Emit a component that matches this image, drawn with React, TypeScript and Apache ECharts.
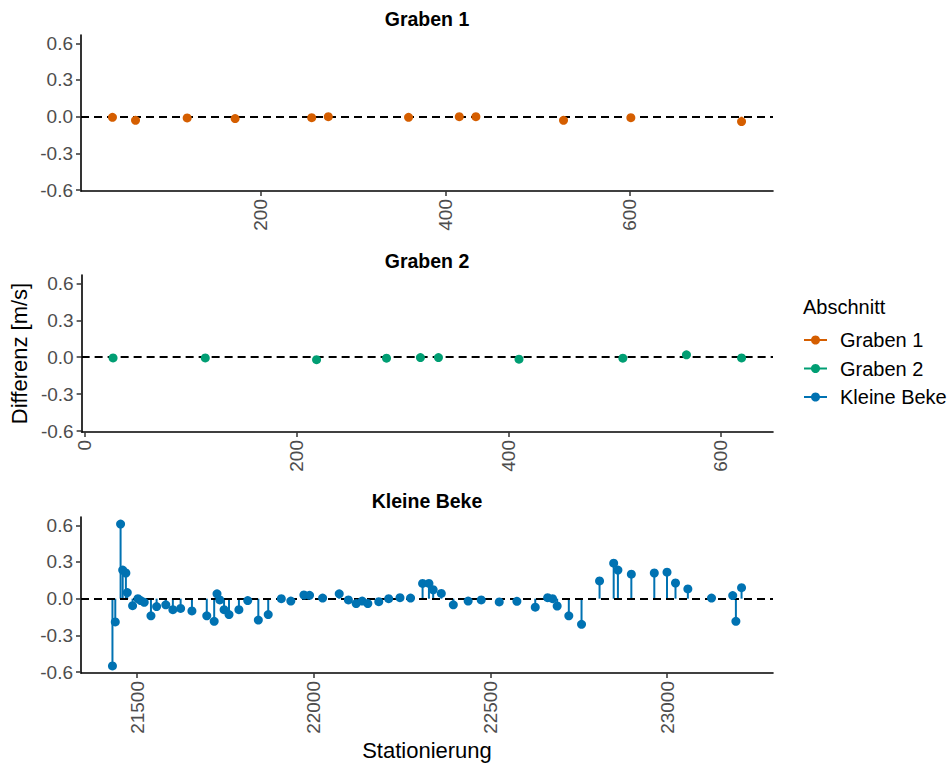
import { useEffect, useRef } from "react";
import * as echarts from "echarts";

const FONT = "'Liberation Sans', Arial, Helvetica, sans-serif";

// ---- Data ----
const graben1X = [39, 64, 120, 172, 255, 273, 360, 415, 433, 528, 601, 721];
const graben1Y = [-0.005, -0.03, -0.01, -0.016, -0.008, 0.0, -0.005, 0.0, 0.0, -0.03, -0.008, -0.04];

const graben2X = [27, 114, 219, 285, 317, 334, 410, 508, 568, 620];
const graben2Y = [-0.006, -0.006, -0.02, -0.008, -0.003, -0.003, -0.016, -0.008, 0.019, -0.006];

const kleineBekeX = [
  21430, 21438, 21453, 21459, 21468, 21472, 21487, 21502, 21510, 21520, 21539, 21555, 21581, 21601,
  21623, 21655, 21697, 21718, 21726, 21734, 21746, 21760, 21788, 21813, 21843, 21871, 21908, 21935,
  21972, 21988, 22025, 22072, 22098, 22120, 22137, 22153, 22184, 22212, 22244, 22274, 22308, 22326,
  22338, 22361, 22395, 22437, 22474, 22525, 22575, 22627, 22662, 22676, 22689, 22722, 22758, 22809,
  22849, 22861, 22899, 22964, 23000, 23024, 23059, 23126, 23186, 23195, 23211,
];
const kleineBekeY = [
  -0.55, -0.19, 0.61, 0.234, 0.21, 0.05, -0.057, 0.0, -0.016, -0.03, -0.14, -0.065, -0.05, -0.09,
  -0.08, -0.1, -0.14, -0.185, 0.04, -0.01, -0.09, -0.13, -0.09, -0.016, -0.175, -0.13, 0.0, -0.02,
  0.03, 0.027, 0.005, 0.04, -0.01, -0.04, -0.02, -0.04, -0.025, 0.0, 0.008, 0.005, 0.125, 0.125,
  0.073, 0.043, -0.05, -0.02, -0.01, -0.027, -0.022, -0.07, 0.008, 0.0, -0.06, -0.14, -0.21, 0.145,
  0.29, 0.234, 0.2, 0.21, 0.217, 0.128, 0.08, 0.005, 0.025, -0.185, 0.09,
];

const seriesNames = ["Graben 1", "Graben 2", "Kleine Beke"];
const seriesColors = ["#D55E00", "#009E73", "#0072B2"];
const yTicks = [-0.6, -0.3, 0, 0.3, 0.6];
const xTicks1 = [200, 400, 600];
const xTicks2 = [0, 200, 400, 600];
const xTicks3 = [21500, 22000, 22500, 23000];

const legendTitle = "Abschnitt";
const yTitle = "Differenz [m/s]";
const xTitle = "Stationierung";

// ---- Layout ----
const PLOT_LEFT = 81;
const PLOT_RIGHT = 773;
const W = 952;
const H = 765;
const panelLayout = [
  { top: 35, height: 156, titleY: 19 },
  { top: 275, height: 157, titleY: 261 },
  { top: 517, height: 156, titleY: 501 },
];

function expand(vals: number[]): [number, number] {
  const mn = Math.min(...vals);
  const mx = Math.max(...vals);
  const e = (mx - mn) * 0.05;
  return [mn - e, mx + e];
}

function buildOption() {
  const xs = [graben1X, graben2X, kleineBekeX];
  const ys = [graben1Y, graben2Y, kleineBekeY];
  const xTicks = [xTicks1, xTicks2, xTicks3];
  const [yMin, yMax] = expand([...graben1Y, ...graben2Y, ...kleineBekeY]);

  const grid: any[] = [];
  const xAxis: any[] = [];
  const yAxis: any[] = [];
  const series: any[] = [];
  const graphic: any[] = [];

  for (let i = 0; i < 3; i++) {
    const L = panelLayout[i];
    const [xMin, xMax] = expand(xs[i]);
    grid.push({ left: PLOT_LEFT, width: PLOT_RIGHT - PLOT_LEFT, top: L.top, height: L.height });
    xAxis.push({
      type: "value",
      gridIndex: i,
      min: xMin,
      max: xMax,
      axisLine: { show: true, onZero: false, lineStyle: { color: "#000", width: 1.6 } },
      axisTick: {
        show: true,
        customValues: xTicks[i],
        length: 5,
        lineStyle: { color: "#333", width: 1.5 },
      },
      axisLabel: {
        customValues: xTicks[i],
        rotate: 90,
        margin: 8,
        color: "#4D4D4D",
        fontSize: 19,
        fontFamily: FONT,
        formatter: (v: number) => String(v),
      },
      splitLine: { show: false },
      ...(i === 2
        ? {
            name: xTitle,
            nameLocation: "middle",
            nameGap: 66,
            nameTextStyle: { fontSize: 22, color: "#000", fontFamily: FONT },
          }
        : {}),
    });
    yAxis.push({
      type: "value",
      gridIndex: i,
      min: yMin,
      max: yMax,
      axisLine: { show: true, onZero: false, lineStyle: { color: "#000", width: 1.6 } },
      axisTick: {
        show: true,
        customValues: yTicks,
        length: 5,
        lineStyle: { color: "#333", width: 1.5 },
      },
      axisLabel: {
        customValues: yTicks,
        margin: 8,
        color: "#4D4D4D",
        fontSize: 19,
        fontFamily: FONT,
        formatter: (v: number) => v.toFixed(1),
      },
      splitLine: { show: false },
      ...(i === 1
        ? {
            name: yTitle,
            nameLocation: "middle",
            nameGap: 46,
            nameTextStyle: { fontSize: 22, color: "#000", fontFamily: FONT },
          }
        : {}),
    });

    const color = seriesColors[i];
    const data = xs[i].map((x, k) => [x, ys[i][k]]);
    series.push({
      type: "custom",
      name: seriesNames[i] + " stem",
      xAxisIndex: i,
      yAxisIndex: i,
      data,
      silent: true,
      z: 2,
      renderItem: (_p: any, api: any) => {
        const p0 = api.coord([api.value(0), 0]);
        const p1 = api.coord([api.value(0), api.value(1)]);
        return {
          type: "line",
          shape: { x1: p0[0], y1: p0[1], x2: p1[0], y2: p1[1] },
          style: { stroke: color, lineWidth: 2 },
        };
      },
    });
    series.push({
      type: "scatter",
      name: seriesNames[i],
      xAxisIndex: i,
      yAxisIndex: i,
      data,
      symbol: "circle",
      symbolSize: 9,
      itemStyle: { color, opacity: 1 },
      z: 4,
      markLine: {
        silent: true,
        symbol: ["none", "none"],
        label: { show: false },
        lineStyle: { type: [8, 5], color: "#000", width: 1.8 },
        data: [{ yAxis: 0 }],
        z: 3,
      },
    });

    graphic.push({
      type: "text",
      x: (PLOT_LEFT + PLOT_RIGHT) / 2,
      y: L.titleY,
      style: {
        text: seriesNames[i],
        fill: "#000",
        font: `bold 19.5px ${FONT}`,
        align: "center",
        verticalAlign: "middle",
        textAlign: "center",
        textVerticalAlign: "middle",
      },
    });
  }

  // Legend
  graphic.push({
    type: "text",
    x: 803,
    y: 307,
    style: {
      text: legendTitle,
      fill: "#000",
      font: `20px ${FONT}`,
      align: "left",
      verticalAlign: "middle",
      textAlign: "left",
      textVerticalAlign: "middle",
    },
  });
  const legendYs = [340, 368.5, 397];
  for (let i = 0; i < 3; i++) {
    const y = legendYs[i];
    graphic.push({
      type: "line",
      shape: { x1: 804, y1: y, x2: 827, y2: y },
      style: { stroke: seriesColors[i], lineWidth: 2 },
    });
    graphic.push({
      type: "circle",
      shape: { cx: 815.5, cy: y, r: 4.5 },
      style: { fill: seriesColors[i] },
    });
    graphic.push({
      type: "text",
      x: 840,
      y,
      style: {
        text: seriesNames[i],
        fill: "#000",
        font: `20px ${FONT}`,
        align: "left",
        verticalAlign: "middle",
        textAlign: "left",
        textVerticalAlign: "middle",
      },
    });
  }

  return {
    animation: false,
    backgroundColor: "#fff",
    textStyle: { fontFamily: FONT },
    grid,
    xAxis,
    yAxis,
    series,
    graphic,
  };
}

export default function App() {
  const ref = useRef<HTMLDivElement>(null);
  useEffect(() => {
    document.body.style.margin = "0";
    const chart = echarts.init(ref.current!, null, { renderer: "svg" });
    chart.setOption(buildOption() as any);
    return () => chart.dispose();
  }, []);
  return <div ref={ref} style={{ width: W, height: H }} />;
}
